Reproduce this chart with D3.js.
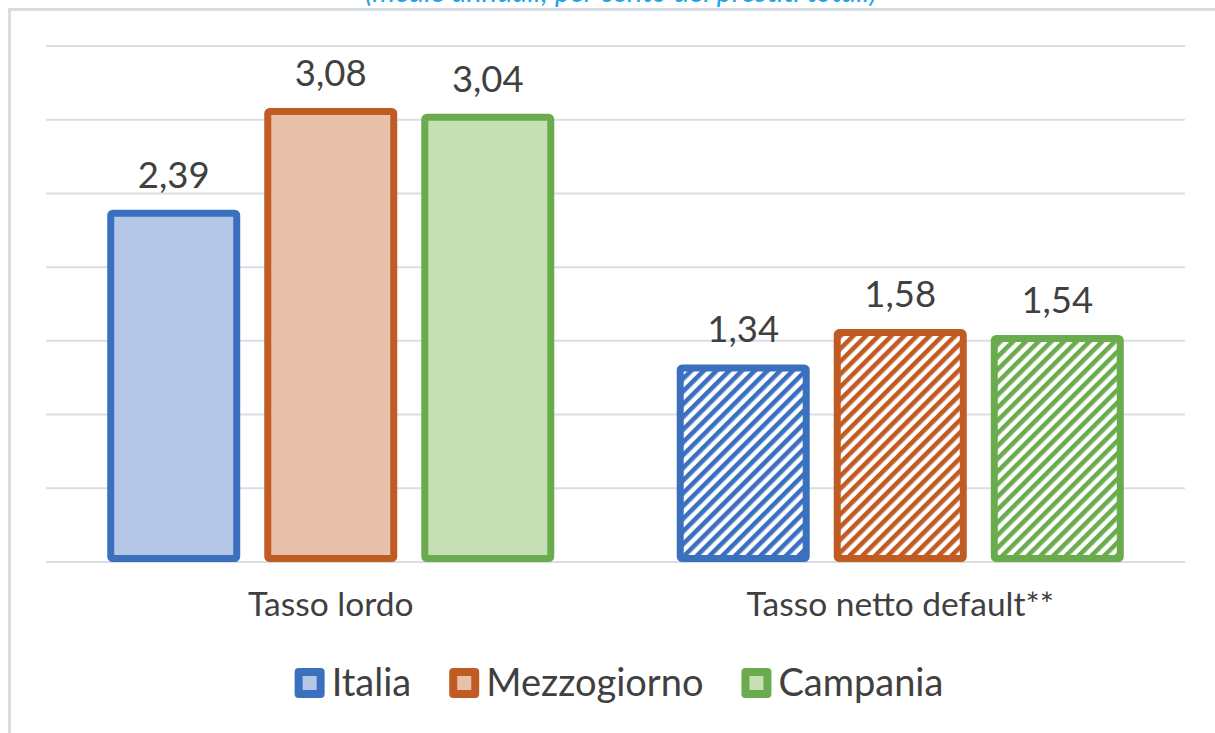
<!DOCTYPE html>
<html>
<head>
<meta charset="utf-8">
<script src="https://cdn.jsdelivr.net/npm/d3@7"></script>
<style>
  html, body { margin: 0; padding: 0; background: #fff; }
  svg { display: block; font-family: Lato, "Open Sans", sans-serif; }
</style>
</head>
<body>
<svg></svg>
<script>
const categories = ['Tasso lordo', 'Tasso netto default**'];
const seriesNames = ['Italia', 'Mezzogiorno', 'Campania'];
const italia = [2.39, 1.34];
const mezzogiorno = [3.08, 1.58];
const campania = [3.04, 1.54];
const yTicks = [0, 0.5, 1, 1.5, 2, 2.5, 3, 3.5];

const strokeColors = ['#3b70bf', '#c15b24', '#6aab4e'];
const fillColors = ['#b5c7e6', '#e7c1aa', '#c5e0b5'];

document.addEventListener('DOMContentLoaded', function() {
  const width = 1215;
  const height = 733;
  const svg = d3.select('svg').attr('width', width).attr('height', height);

  const values = [italia, mezzogiorno, campania];
  const fmt = v => d3.format('.2f')(v).replace('.', ',');

  // hatch patterns for the second group
  const defs = svg.append('defs');
  seriesNames.forEach((s, i) => {
    const p = defs.append('pattern')
      .attr('id', 'hatch' + i)
      .attr('patternUnits', 'userSpaceOnUse')
      .attr('width', 9).attr('height', 9)
      .attr('patternTransform', 'rotate(45)');
    p.append('rect').attr('width', 9).attr('height', 9).attr('fill', '#fff');
    p.append('rect').attr('width', 4.6).attr('height', 9).attr('fill', strokeColors[i]);
  });

  // chart frame
  svg.append('path')
    .attr('d', 'M9.5,' + (height + 5) + 'V9.5H' + (width + 5))
    .attr('fill', 'none')
    .attr('stroke', '#d8dde4')
    .attr('stroke-width', 3);

  // subtitle, cut off by the top edge as in the original
  svg.append('text')
    .attr('x', 621).attr('y', 2)
    .attr('text-anchor', 'middle')
    .attr('font-style', 'italic')
    .attr('font-size', 29)
    .attr('fill', '#1ca6e8')
    .text('(medie annuali; per cento dei prestiti totali)');

  const x0 = d3.scaleBand().domain(categories).range([46, 1185])
    .paddingInner(0.215).paddingOuter(0.1075);
  const x1 = d3.scaleBand().domain(seriesNames).range([0, x0.bandwidth()]).paddingInner(0.153);
  const y = d3.scaleLinear().domain([0, 3.5]).range([562, 46]);

  svg.append('g').selectAll('line')
    .data(yTicks)
    .enter().append('line')
    .attr('x1', 46).attr('x2', 1185)
    .attr('y1', d => y(d)).attr('y2', d => y(d))
    .attr('stroke', '#d9dee5')
    .attr('stroke-width', 2);

  const sw = 7;
  const groups = svg.append('g').selectAll('g')
    .data(categories)
    .enter().append('g')
    .attr('transform', d => 'translate(' + x0(d) + ',0)');

  groups.each(function(cat, ci) {
    const g = d3.select(this);
    seriesNames.forEach((s, si) => {
      const v = values[si][ci];
      g.append('rect')
        .attr('x', x1(s) + sw / 2)
        .attr('y', y(v) + sw / 2)
        .attr('width', x1.bandwidth() - sw)
        .attr('height', y(0) - y(v) - sw)
        .attr('rx', 2)
        .attr('fill', ci === 0 ? fillColors[si] : 'url(#hatch' + si + ')')
        .attr('stroke', strokeColors[si])
        .attr('stroke-width', sw);
      g.append('text')
        .attr('x', x1(s) + x1.bandwidth() / 2)
        .attr('y', y(v) - 22)
        .attr('text-anchor', 'middle')
        .attr('font-size', 36.5)
        .attr('fill', '#404040')
        .text(fmt(v));
    });
  });

  // category labels
  svg.append('g').selectAll('text')
    .data(categories)
    .enter().append('text')
    .attr('x', d => x0(d) + x0.bandwidth() / 2)
    .attr('y', 616)
    .attr('text-anchor', 'middle')
    .attr('font-size', 33.5)
    .attr('fill', '#404040')
    .text(d => d);

  // legend
  const legend = svg.append('g');
  let lx = 0;
  seriesNames.forEach((s, i) => {
    const item = legend.append('g').attr('transform', 'translate(' + lx + ',0)');
    item.append('rect')
      .attr('x', 0).attr('y', 668).attr('width', 30).attr('height', 30)
      .attr('rx', 4)
      .attr('fill', strokeColors[i]);
    item.append('rect')
      .attr('x', 8).attr('y', 676).attr('width', 14).attr('height', 14)
      .attr('fill', fillColors[i]);
    const t = item.append('text')
      .attr('x', 37).attr('y', 696)
      .attr('font-size', 38)
      .attr('fill', '#404040')
      .text(s);
    lx += 37 + t.node().getComputedTextLength() + 38;
  });
  const lw = lx - 38;
  legend.attr('transform', 'translate(' + (619 - lw / 2) + ',0)');
});
</script>
</body>
</html>
